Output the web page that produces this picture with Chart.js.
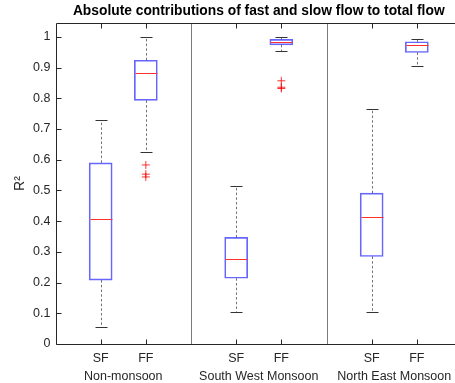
<!DOCTYPE html>
<html>
<head>
<meta charset="utf-8">
<script src="https://cdn.jsdelivr.net/npm/chart.js@4.4.1/dist/chart.umd.min.js"></script>
<style>
  html, body { margin: 0; padding: 0; background: #fff; overflow: hidden; }
  #clip { position: relative; width: 455px; height: 383px; overflow: hidden; }
  #chart { position: absolute; left: 0; top: 0; }
</style>
</head>
<body>
<div id="clip"><canvas id="chart" width="470" height="383"></canvas></div>
<script>
// box plot statistics
const groups = ['Non-monsoon', 'South West Monsoon', 'North East Monsoon'];
const groupCenters = [1.5, 4.5, 7.5];
const tickLabels = ['SF', 'FF', 'SF', 'FF', 'SF', 'FF'];
const positions = [1, 2, 4, 5, 7, 8];
const dividers = [3, 6];
const whiskerLow = [0.056, 0.624, 0.105, 0.954, 0.103, 0.906];
const q1 = [0.208, 0.793, 0.214, 0.974, 0.285, 0.949];
const median = [0.406, 0.881, 0.278, 0.983, 0.414, 0.972];
const q3 = [0.590, 0.924, 0.347, 0.992, 0.491, 0.984];
const whiskerHigh = [0.729, 1.0, 0.515, 0.998, 0.765, 0.993];
const outliers = [[], [0.583, 0.553, 0.544], [], [0.857, 0.836, 0.832], [], []];
const yTicks = [0, 0.1, 0.2, 0.3, 0.4, 0.5, 0.6, 0.7, 0.8, 0.9, 1];

const FONT = 'Liberation Sans, Arial, Helvetica, sans-serif';
const AXIS = '#262626';

const boxData = positions.map((x, i) => ({ x: x, y: [q1[i], q3[i]] }));
const outlierData = [];
outliers.forEach((list, i) => {
  list.forEach((v) => outlierData.push({ x: positions[i], y: v }));
});

const crisp = (v) => Math.round(v) + 0.5;

// keep the plot box fixed: no extra room for overhanging labels
const noPad = (scale) => {
  scale.paddingLeft = 0;
  scale.paddingRight = 0;
  scale.paddingTop = 0;
  scale.paddingBottom = 0;
};

const boxExtras = {
  id: 'boxExtras',
  beforeDatasetsDraw(chart) {
    const { ctx, chartArea, scales } = chart;
    ctx.save();
    ctx.strokeStyle = '#7a7a7a';
    ctx.lineWidth = 1;
    dividers.forEach((d) => {
      const x = crisp(scales.x.getPixelForValue(d));
      ctx.beginPath();
      ctx.moveTo(x, chartArea.top);
      ctx.lineTo(x, chartArea.bottom);
      ctx.stroke();
    });
    ctx.restore();
  },
  afterDatasetsDraw(chart) {
    const { ctx, chartArea, scales } = chart;
    const xs = scales.x, ys = scales.y;
    ctx.save();

    positions.forEach((p, i) => {
      const x = crisp(xs.getPixelForValue(p));

      // dotted whiskers
      ctx.strokeStyle = 'rgba(0,0,0,0.55)';
      ctx.lineWidth = 1;
      ctx.setLineDash([2.5, 2.2]);
      ctx.beginPath();
      ctx.moveTo(x, ys.getPixelForValue(q3[i]));
      ctx.lineTo(x, ys.getPixelForValue(whiskerHigh[i]));
      ctx.moveTo(x, ys.getPixelForValue(q1[i]));
      ctx.lineTo(x, ys.getPixelForValue(whiskerLow[i]));
      ctx.stroke();
      ctx.setLineDash([]);

      // caps
      ctx.strokeStyle = '#333';
      ctx.beginPath();
      [whiskerHigh[i], whiskerLow[i]].forEach((v) => {
        const y = crisp(ys.getPixelForValue(v));
        ctx.moveTo(x - 6, y);
        ctx.lineTo(x + 6, y);
      });
      ctx.stroke();

      // median
      ctx.strokeStyle = '#ff3030';
      ctx.beginPath();
      const ym = crisp(ys.getPixelForValue(median[i]));
      ctx.moveTo(x - 11, ym);
      ctx.lineTo(x + 11, ym);
      ctx.stroke();
    });

    // frame: left, top and bottom (right side lies past the picture edge)
    ctx.strokeStyle = AXIS;
    ctx.lineWidth = 1;
    const l = crisp(chartArea.left), r = crisp(chartArea.right);
    const t = crisp(chartArea.top), b = crisp(chartArea.bottom);
    ctx.beginPath();
    ctx.moveTo(r, t); ctx.lineTo(l, t); ctx.lineTo(l, b); ctx.lineTo(r, b);
    ctx.stroke();

    // inward tick marks
    ctx.beginPath();
    yTicks.forEach((v) => {
      const y = crisp(ys.getPixelForValue(v));
      ctx.moveTo(l, y); ctx.lineTo(l + 5, y);
    });
    positions.forEach((p) => {
      const x = crisp(xs.getPixelForValue(p));
      ctx.moveTo(x, b); ctx.lineTo(x, b - 5);
      ctx.moveTo(x, t); ctx.lineTo(x, t + 5);
    });
    ctx.stroke();
    ctx.restore();
  }
};

new Chart(document.getElementById('chart'), {
  type: 'bar',
  data: {
    datasets: [
      {
        type: 'bar',
        data: boxData,
        backgroundColor: 'rgba(0,0,0,0)',
        borderColor: 'rgba(0,0,255,0.6)',
        borderWidth: 1,
        borderSkipped: false,
        barThickness: 23,
        order: 2
      },
      {
        type: 'scatter',
        data: outlierData,
        pointStyle: 'cross',
        pointRadius: 4,
        pointHoverRadius: 4,
        borderColor: 'rgba(255,0,0,0.8)',
        borderWidth: 1,
        order: 1
      }
    ]
  },
  options: {
    responsive: false,
    animation: false,
    events: [],
    layout: { padding: { left: 0, right: 8, top: 0, bottom: 0 } },
    plugins: {
      legend: { display: false },
      tooltip: { enabled: false },
      title: {
        display: true,
        text: 'Absolute contributions of fast and slow flow to total flow',
        fullSize: false,
        color: '#000',
        font: { family: FONT, size: 13.8, weight: 'bold', lineHeight: 1.2 },
        padding: { top: 3, bottom: 3.5 }
      }
    },
    scales: {
      x: {
        type: 'linear',
        position: 'bottom',
        min: 0,
        max: 9,
        offset: false,
        grid: { display: false, drawTicks: false, offset: false },
        border: { display: false },
        afterBuildTicks: (scale) => { scale.ticks = positions.map((v) => ({ value: v })); },
        afterFit: (scale) => { scale.height = 21; noPad(scale); },
        ticks: {
          autoSkip: false,
          maxRotation: 0,
          padding: 7,
          color: AXIS,
          font: { family: FONT, size: 12.5 },
          callback: (v, i) => tickLabels[i]
        }
      },
      x2: {
        type: 'linear',
        position: 'bottom',
        min: 0,
        max: 9,
        offset: false,
        grid: { display: false, drawTicks: false, offset: false },
        border: { display: false },
        afterBuildTicks: (scale) => { scale.ticks = groupCenters.map((v) => ({ value: v })); },
        afterFit: (scale) => { scale.height = 18; noPad(scale); },
        ticks: {
          autoSkip: false,
          maxRotation: 0,
          padding: 4,
          color: AXIS,
          font: { family: FONT, size: 12.5 },
          callback: (v, i) => groups[i]
        }
      },
      y: {
        min: 0,
        max: 1.045,
        grid: { display: false, drawTicks: false },
        border: { display: false },
        afterBuildTicks: (scale) => { scale.ticks = yTicks.map((v) => ({ value: v })); },
        afterFit: (scale) => { scale.width = 55.5; noPad(scale); },
        ticks: {
          padding: 5,
          color: AXIS,
          font: { family: FONT, size: 12.5 },
          callback: (v) => String(Math.round(v * 10) / 10)
        },
        title: {
          display: true,
          text: 'R²',
          color: AXIS,
          font: { family: FONT, size: 14 },
          padding: { top: 12, bottom: 0 }
        }
      }
    }
  },
  plugins: [boxExtras]
});
</script>
</body>
</html>
